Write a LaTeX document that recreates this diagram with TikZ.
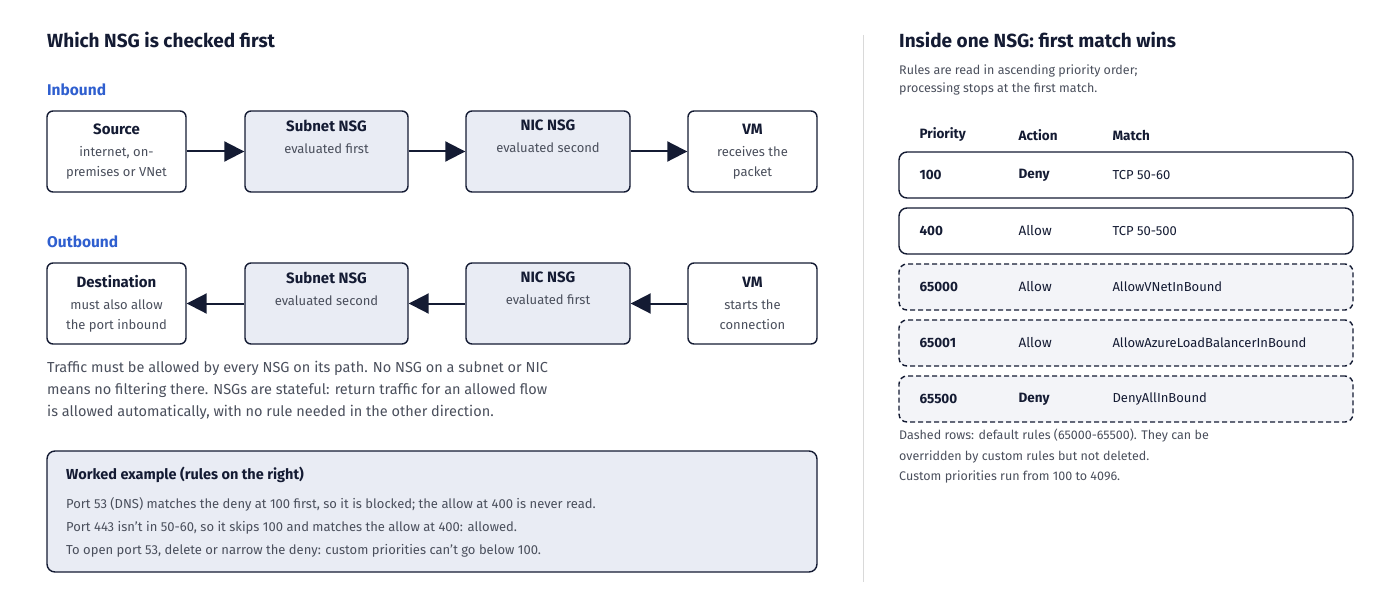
\documentclass[tikz,border=0pt]{standalone}
\usepackage{fontspec}
\setmainfont{Fira Sans}
\usetikzlibrary{arrows.meta}
\definecolor{ink}{HTML}{141B33}
\definecolor{nsg}{HTML}{E9ECF4}
\definecolor{dflt}{HTML}{F3F4F8}
\definecolor{blu}{HTML}{2F5FCF}
\definecolor{gtxt}{HTML}{4A4F5C}
\newcommand\bttl[1]{{\fontsize{15}{18}\selectfont\bfseries\color{ink}#1}}
\begin{document}
\begin{tikzpicture}[x=1pt,y=-1pt,
 box/.style={draw=ink,line width=1.4pt,rounded corners=6pt,minimum height=81pt,align=center,inner sep=2pt,text=gtxt,font=\fontsize{13}{20}\selectfont},
 nsgbox/.style={box,fill=nsg},
 arr/.style={draw=ink,line width=2pt,-{Triangle[length=20pt,width=20pt]}},
 row/.style={draw=ink,line width=1.4pt,rounded corners=8pt,minimum width=454pt,minimum height=46pt,fill=white},
 drow/.style={row,dashed,dash pattern=on 5pt off 3pt,fill=dflt},
 cell/.style={font=\fontsize{13.5}{16}\selectfont,text=ink,anchor=west},
 head/.style={font=\fontsize{13.5}{16}\selectfont\bfseries,text=ink,anchor=west},
 note/.style={font=\fontsize{12.5}{20.5}\selectfont,text=gtxt,anchor=north west,align=left,inner sep=0pt},
 h1/.style={font=\fontsize{19}{22}\selectfont\bfseries,text=ink,anchor=west,inner sep=0pt},
 h2/.style={font=\fontsize{15.5}{18}\selectfont\bfseries,text=blu,anchor=west,inner sep=0pt}]
\useasboundingbox (0,0) rectangle (1400,607);
\node[h1] (t1) at (47,40) {Which NSG is checked first};
\node[h2] (in) at (47,90) {Inbound};
\node[box,minimum width=139pt] (src) at (116.5,151.5) {\bttl{Source}\\[2pt]internet, on-\\premises or VNet};
\node[nsgbox,minimum width=163pt] (sn1) at (326.5,151.5) {\bttl{Subnet NSG}\\[2pt]evaluated first\\[10pt]};
\node[nsgbox,minimum width=164pt] (nic1) at (548,151.5) {\bttl{NIC NSG}\\[2pt]evaluated second\\[10pt]};
\node[box,minimum width=129pt] (vm1) at (752.5,151.5) {\bttl{VM}\\[2pt]receives the\\packet};
\draw[arr] (src) -- (sn1);
\draw[arr] (sn1) -- (nic1);
\draw[arr] (nic1) -- (vm1);
\node[h2] (out) at (47,242) {Outbound};
\node[box,minimum width=139pt] (dst) at (116.5,303.5) {\bttl{Destination}\\[2pt]must also allow\\the port inbound};
\node[nsgbox,minimum width=163pt] (sn2) at (326.5,303.5) {\bttl{Subnet NSG}\\[2pt]evaluated second\\[10pt]};
\node[nsgbox,minimum width=164pt] (nic2) at (548,303.5) {\bttl{NIC NSG}\\[2pt]evaluated first\\[10pt]};
\node[box,minimum width=129pt] (vm2) at (752.5,303.5) {\bttl{VM}\\[2pt]starts the\\connection};
\draw[arr] (vm2) -- (nic2);
\draw[arr] (nic2) -- (sn2);
\draw[arr] (sn2) -- (dst);
\node[note,font=\fontsize{14.5}{22}\selectfont] (para) at (47,361) {Traffic must be allowed by every NSG on its path. No NSG on a subnet or NIC\\means no filtering there. NSGs are stateful: return traffic for an allowed flow\\is allowed automatically, with no rule needed in the other direction.};
\draw[draw=ink,line width=1.4pt,fill=nsg,rounded corners=8pt] (47,451) rectangle (817,572);
\node[h1,font=\fontsize{14.5}{18}\selectfont\bfseries] (we) at (66,475) {Worked example (rules on the right)};
\node[note,font=\fontsize{13}{23}\selectfont] (wel) at (66,497) {Port 53 (DNS) matches the deny at 100 first, so it is blocked; the allow at 400 is never read.\\Port 443 isn't in 50-60, so it skips 100 and matches the allow at 400: allowed.\\To open port 53, delete or narrow the deny: custom priorities can't go below 100.};
\draw[draw=black!15,line width=1pt] (863,35) -- (863,582);
\node[h1] (t2) at (899,40) {Inside one NSG: first match wins};
\node[note,font=\fontsize{12.5}{18}\selectfont] (sub) at (899,65) {Rules are read in ascending priority order;\\processing stops at the first match.};
\node[head] (hp) at (916,135) {Priority};
\node[head] (ha) at (1015,135) {Action};
\node[head] (hm) at (1109,135) {Match};
\node[row] (r1) at (1126,175) {};
\node[row] (r2) at (1126,231) {};
\node[drow] (r3) at (1126,287) {};
\node[drow] (r4) at (1126,343) {};
\node[drow] (r5) at (1126,399) {};
\foreach \r/\p/\a/\m/\b in {r1/100/Deny/TCP 50-60/1,r2/400/Allow/TCP 50-500/0,r3/65000/Allow/AllowVNetInBound/0,r4/65001/Allow/AllowAzureLoadBalancerInBound/0,r5/65500/Deny/DenyAllInBound/1}{
 \node[head] at (916,0 |- \r) {\p};
 \ifnum\b=1 \node[head] at (1015,0 |- \r) {\a};\else\node[cell] at (1015,0 |- \r) {\a};\fi
 \node[cell,font=\fontsize{13}{16}\selectfont] at (1109,0 |- \r) {\m};
}
\node[note,font=\fontsize{12.5}{20.5}\selectfont] (nt) at (899,429) {Dashed rows: default rules (65000-65500). They can be\\overridden by custom rules but not deleted.\\Custom priorities run from 100 to 4096.};
\end{tikzpicture}
\end{document}
